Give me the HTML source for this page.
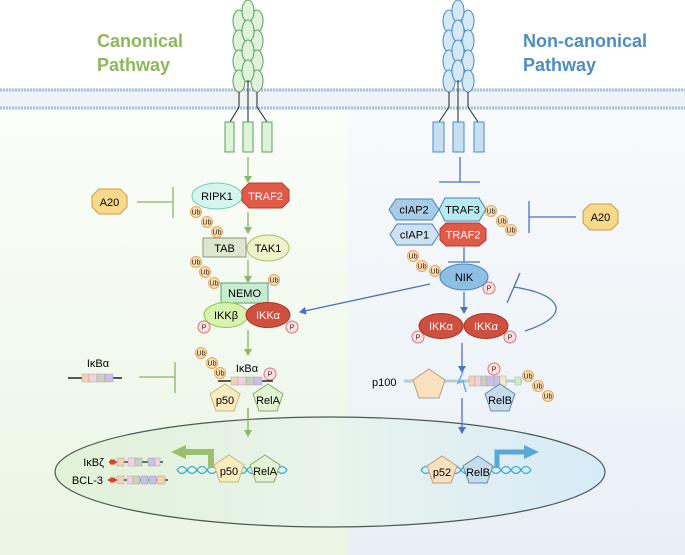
<!DOCTYPE html>
<html><head><meta charset="utf-8"><style>
html,body{margin:0;padding:0;background:#fff}
svg{display:block}
text{font-family:"Liberation Sans",sans-serif}
</style></head><body>
<svg width="685" height="555" viewBox="0 0 685 555" xmlns="http://www.w3.org/2000/svg">
<defs>
<linearGradient id="gl" x1="0" y1="0" x2="0" y2="1"><stop offset="0" stop-color="#fbfdf9"/><stop offset="1" stop-color="#eaf6e4"/></linearGradient>
<linearGradient id="gr" x1="0" y1="0" x2="0" y2="1"><stop offset="0" stop-color="#f8fafc"/><stop offset="1" stop-color="#e8f0f6"/></linearGradient>
<linearGradient id="nuc" x1="0" y1="0" x2="1" y2="0"><stop offset="0" stop-color="#e2f2d8"/><stop offset="0.5" stop-color="#e8f4ec"/><stop offset="1" stop-color="#d8eaf8"/></linearGradient>
<marker id="ag" markerWidth="8" markerHeight="8" refX="6" refY="4" orient="auto" markerUnits="userSpaceOnUse"><path d="M0,0 L7,4 L0,8 z" fill="#8db567"/></marker>
<marker id="ab" markerWidth="8" markerHeight="8" refX="6" refY="4" orient="auto" markerUnits="userSpaceOnUse"><path d="M0,0 L7,4 L0,8 z" fill="#4a72c0"/></marker>
</defs>
<rect x="0" y="110" width="348" height="445" fill="url(#gl)"/>
<rect x="348" y="110" width="337" height="445" fill="url(#gr)"/>
<!-- membrane -->
<rect x="0" y="88" width="685" height="22" fill="#eef3f8"/>
<line x1="0" y1="90" x2="685" y2="90" stroke="#a9bfd8" stroke-width="3" stroke-dasharray="2 1"/>
<line x1="0" y1="108" x2="685" y2="108" stroke="#a9bfd8" stroke-width="3" stroke-dasharray="2 1"/>
<!-- titles -->
<text x="97" y="47" font-size="18" font-weight="bold" fill="#8db85a">Canonical</text>
<text x="97" y="71" font-size="18" font-weight="bold" fill="#8db85a">Pathway</text>
<text x="523" y="47" font-size="18" font-weight="bold" fill="#4a8fc0">Non-canonical</text>
<text x="523" y="71" font-size="18" font-weight="bold" fill="#4a8fc0">Pathway</text>
<!-- left receptor -->
<g fill="#dff3d8" stroke="#5aa060" stroke-width="1">
<ellipse cx="239" cy="21" rx="6" ry="11"/><ellipse cx="239" cy="41" rx="6" ry="11"/><ellipse cx="239" cy="61" rx="6" ry="11"/><ellipse cx="239" cy="81" rx="6" ry="11"/>
<ellipse cx="257" cy="21" rx="6" ry="11"/><ellipse cx="257" cy="41" rx="6" ry="11"/><ellipse cx="257" cy="61" rx="6" ry="11"/><ellipse cx="257" cy="81" rx="6" ry="11"/>
<ellipse cx="248" cy="11" rx="6" ry="11"/><ellipse cx="248" cy="31" rx="6" ry="11"/><ellipse cx="248" cy="51" rx="6" ry="11"/><ellipse cx="248" cy="71" rx="6" ry="11"/>
</g>
<g stroke="#222" stroke-width="1" fill="none">
<path d="M239,92 V107 L230,122"/><path d="M248,80 V122"/><path d="M257,92 V107 L267,122"/>
</g>
<g fill="#dff3d8" stroke="#5aa060"><rect x="225" y="122" width="9" height="30"/><rect x="243" y="122" width="10" height="30"/><rect x="262" y="122" width="10" height="30"/></g>
<!-- right receptor -->
<g fill="#d4e8f6" stroke="#4a8ac8" stroke-width="1">
<ellipse cx="449" cy="21" rx="6" ry="11"/><ellipse cx="449" cy="41" rx="6" ry="11"/><ellipse cx="449" cy="61" rx="6" ry="11"/><ellipse cx="449" cy="81" rx="6" ry="11"/>
<ellipse cx="468" cy="21" rx="6" ry="11"/><ellipse cx="468" cy="41" rx="6" ry="11"/><ellipse cx="468" cy="61" rx="6" ry="11"/><ellipse cx="468" cy="81" rx="6" ry="11"/>
<ellipse cx="458" cy="11" rx="6" ry="11"/><ellipse cx="458" cy="31" rx="6" ry="11"/><ellipse cx="458" cy="51" rx="6" ry="11"/><ellipse cx="458" cy="71" rx="6" ry="11"/>
</g>
<g stroke="#222" stroke-width="1" fill="none">
<path d="M449,92 V107 L439,122"/><path d="M458,80 V122"/><path d="M468,92 V107 L478,122"/>
</g>
<g fill="#c6e0f2" stroke="#4a8ac8"><rect x="433" y="122" width="11" height="30"/><rect x="453" y="122" width="11" height="30"/><rect x="474" y="122" width="10" height="30"/></g>

<!-- canonical arrows -->
<g stroke="#8db567" stroke-width="1.3" fill="none">
<line x1="248" y1="157" x2="248" y2="182" marker-end="url(#ag)"/>
<line x1="248" y1="212" x2="248" y2="233" marker-end="url(#ag)"/>
<line x1="248" y1="260" x2="248" y2="282" marker-end="url(#ag)"/>
<line x1="248" y1="330" x2="248" y2="355" marker-end="url(#ag)"/>
<line x1="248" y1="408" x2="248" y2="436" marker-end="url(#ag)"/>
<line x1="137" y1="202" x2="173" y2="202"/><line x1="173" y1="187" x2="173" y2="218"/>
<line x1="139" y1="377" x2="175" y2="377"/><line x1="175" y1="362" x2="175" y2="393"/>
</g>
<!-- A20 left -->
<polygon points="99,189 120,189 127,196 127,207 120,214 99,214 92,207 92,196" fill="#f8d98a" stroke="#c8a040"/>
<text x="109.5" y="206" font-size="11" text-anchor="middle">A20</text>
<!-- RIPK1 TRAF2 -->
<ellipse cx="217" cy="196" rx="25" ry="13" fill="#d6f5ee" stroke="#7cc8b0"/>
<text x="217" y="200" font-size="11" text-anchor="middle">RIPK1</text>
<polygon points="249,183 282,183 289,190 289,201 282,208 249,208 242,201 242,190" fill="#e05a48" stroke="#b83a30"/>
<text x="265.5" y="200" font-size="11" text-anchor="middle" fill="#fff">TRAF2</text>
<!-- Ub helper groups -->
<g fill="#fbdcae" stroke="#e8a860" stroke-width="1" font-size="7" text-anchor="middle">
<circle cx="196" cy="212" r="5.5"/><circle cx="207" cy="222" r="5.5"/><circle cx="217" cy="232" r="5.5"/>
<circle cx="196" cy="262" r="5.5"/><circle cx="205" cy="272" r="5.5"/><circle cx="214" cy="283" r="5.5"/><circle cx="274" cy="280" r="5.5"/>
<circle cx="201" cy="353" r="5.5"/><circle cx="212" cy="363" r="5.5"/><circle cx="220" cy="373" r="5.5"/>
<circle cx="491" cy="211" r="5.5"/><circle cx="502" cy="221" r="5.5"/><circle cx="511" cy="230" r="5.5"/>
<circle cx="413" cy="256" r="5.5"/><circle cx="422" cy="266" r="5.5"/><circle cx="435" cy="271" r="5.5"/>
<circle cx="528" cy="376" r="5.5"/><circle cx="538" cy="386" r="5.5"/><circle cx="548" cy="396" r="5.5"/>
</g>
<g font-size="7" text-anchor="middle" fill="#222">
<text x="196" y="214.5">Ub</text><text x="207" y="224.5">Ub</text><text x="217" y="234.5">Ub</text>
<text x="196" y="264.5">Ub</text><text x="205" y="274.5">Ub</text><text x="214" y="285.5">Ub</text><text x="274" y="282.5">Ub</text>
<text x="201" y="355.5">Ub</text><text x="212" y="365.5">Ub</text><text x="220" y="375.5">Ub</text>
<text x="491" y="213.5">Ub</text><text x="502" y="223.5">Ub</text><text x="511" y="232.5">Ub</text>
<text x="413" y="258.5">Ub</text><text x="422" y="268.5">Ub</text><text x="435" y="273.5">Ub</text>
<text x="528" y="378.5">Ub</text><text x="538" y="388.5">Ub</text><text x="548" y="398.5">Ub</text>
</g>
<!-- TAB TAK1 -->
<rect x="203" y="238" width="43" height="19" fill="#dde6d0" stroke="#8a9a78"/>
<text x="224.5" y="252" font-size="11" text-anchor="middle">TAB</text>
<ellipse cx="268" cy="248" rx="21" ry="13" fill="#eef3c8" stroke="#b0b870"/>
<text x="268" y="252" font-size="11" text-anchor="middle">TAK1</text>
<!-- NEMO IKK -->
<rect x="221" y="283" width="47" height="20" fill="#c8ecd0" stroke="#5aa070"/>
<text x="244.5" y="297" font-size="11" text-anchor="middle">NEMO</text>
<ellipse cx="226" cy="315" rx="22" ry="12.5" fill="#d8f2b0" stroke="#8cc850"/>
<text x="226" y="319" font-size="11" text-anchor="middle">IKKβ</text>
<ellipse cx="268" cy="315" rx="22" ry="12.5" fill="#d05040" stroke="#a83428"/>
<text x="268" y="319" font-size="11" text-anchor="middle" fill="#fff">IKKα</text>
<!-- P circles -->
<g fill="#fde0e0" stroke="#e07080">
<circle cx="204" cy="327" r="6"/><circle cx="292" cy="327" r="6"/><circle cx="270" cy="374" r="6"/>
<circle cx="489" cy="288" r="6"/><circle cx="418" cy="337" r="6"/><circle cx="510" cy="337" r="6"/><circle cx="494" cy="369" r="6"/>
</g>
<g font-size="7" text-anchor="middle" fill="#222">
<text x="204" y="329.5">P</text><text x="292" y="329.5">P</text><text x="270" y="376.5">P</text>
<text x="489" y="290.5">P</text><text x="418" y="339.5">P</text><text x="510" y="339.5">P</text><text x="494" y="371.5">P</text>
</g>
<!-- IkBa complex -->
<text x="247" y="372" font-size="11" text-anchor="middle">IκBα</text>
<line x1="218" y1="381" x2="273" y2="381" stroke="#222" stroke-width="1.5"/>
<g stroke="#aaa" stroke-width="0.5"><rect x="231" y="377" width="7" height="8" fill="#f8d0b0"/><rect x="238" y="377" width="8" height="8" fill="#f4d0e0"/><rect x="246" y="377" width="8" height="8" fill="#c8d0c0"/><rect x="254" y="377" width="8" height="8" fill="#c8c0e8"/></g>
<polygon points="225,384 240,394 234,411 216,411 210,394" fill="#fbecc0" stroke="#c8b880"/>
<text x="225" y="404" font-size="11" text-anchor="middle">p50</text>
<polygon points="268,384 283,394 277,411 259,411 253,394" fill="#e2f4d2" stroke="#88a878"/>
<text x="268" y="404" font-size="11" text-anchor="middle">RelA</text>
<text x="98" y="367" font-size="11" text-anchor="middle">IκBα</text>
<line x1="68" y1="378" x2="122" y2="378" stroke="#222" stroke-width="1.5"/>
<g stroke="#aaa" stroke-width="0.5"><rect x="82" y="374" width="7" height="8" fill="#f8d0b0"/><rect x="89" y="374" width="8" height="8" fill="#f4d0e0"/><rect x="97" y="374" width="8" height="8" fill="#c8d0c0"/><rect x="105" y="374" width="8" height="8" fill="#c8c0e8"/></g>

<!-- nucleus -->
<ellipse cx="330" cy="472" rx="275" ry="55" fill="url(#nuc)" stroke="#4a5a50" stroke-width="1.2"/>
<line x1="248" y1="408" x2="248" y2="436" stroke="#8db567" stroke-width="1.3" marker-end="url(#ag)"/>
<text x="104" y="466" font-size="11" text-anchor="end">IκBζ</text>
<text x="103" y="484" font-size="11" text-anchor="end">BCL-3</text>
<line x1="109" y1="462" x2="163" y2="462" stroke="#222" stroke-width="1.3"/>
<line x1="108" y1="480" x2="168" y2="480" stroke="#222" stroke-width="1.3"/>
<g stroke="#aaa" stroke-width="0.5">
<rect x="110" y="459.5" width="5" height="5" fill="#e04030" stroke="none"/>
<rect x="117" y="458" width="7" height="8" fill="#f8d0b0"/><rect x="128" y="458" width="7" height="8" fill="#f4d0e0"/><rect x="135" y="458" width="7" height="8" fill="#c8d0c0"/><rect x="148" y="458" width="7" height="8" fill="#c8c0e8"/><rect x="155" y="458" width="5" height="8" fill="#f4d0e0"/>
<rect x="110" y="477.5" width="5" height="5" fill="#e04030" stroke="none"/>
<rect x="117" y="476" width="7" height="8" fill="#f8d0b0"/><rect x="127" y="476" width="6" height="8" fill="#f4d0e0"/><rect x="133" y="476" width="7" height="8" fill="#c8d0c0"/><rect x="141" y="476" width="7" height="8" fill="#c8c0e8"/><rect x="149" y="476" width="7" height="8" fill="#c8c0e8"/><rect x="157" y="476" width="8" height="8" fill="#f8d0b0"/>
</g>
<!-- DNA left -->
<g stroke="#40a8d0" stroke-width="1.3" fill="none">
<path d="M177,470 q5,-7 10,0 t10,0 t10,0 t10,0 t10,0 t10,0 t10,0 t10,0 t10,0 t10,0 t10,0"/>
<path d="M177,470 q5,7 10,0 t10,0 t10,0 t10,0 t10,0 t10,0 t10,0 t10,0 t10,0 t10,0 t10,0"/>
<path d="M421,470 q5,-7 10,0 t10,0 t10,0 t10,0 t10,0 t10,0 t10,0 t10,0 t10,0 t10,0 t10,0"/>
<path d="M421,470 q5,7 10,0 t10,0 t10,0 t10,0 t10,0 t10,0 t10,0 t10,0 t10,0 t10,0 t10,0"/>
</g>
<path d="M211,468 V452 H186" stroke="#9bbf6a" stroke-width="6" fill="none"/>
<polygon points="186,445 186,459 171,452" fill="#9bbf6a"/>
<polygon points="229,455 244,465 238,482 220,482 214,465" fill="#fbecc0" stroke="#c8b880"/>
<text x="229" y="475" font-size="11" text-anchor="middle">p50</text>
<polygon points="265,455 280,465 274,482 256,482 250,465" fill="#e2f4d2" stroke="#88a878"/>
<text x="265" y="475" font-size="11" text-anchor="middle">RelA</text>

<!-- non-canonical -->
<g stroke="#4a72c0" stroke-width="1.3" fill="none">
<line x1="460" y1="157" x2="460" y2="182"/><line x1="439" y1="182" x2="480" y2="182"/>
<line x1="529" y1="217" x2="576" y2="217"/><line x1="529" y1="201" x2="529" y2="233"/>
<line x1="464" y1="247" x2="464" y2="262"/><line x1="448" y1="262" x2="480" y2="262"/>
<line x1="430" y1="284" x2="300" y2="312" marker-end="url(#ab)"/>
<line x1="464" y1="292" x2="464" y2="313" marker-end="url(#ab)"/>
<line x1="462" y1="343" x2="462" y2="372" marker-end="url(#ab)"/>
<line x1="462" y1="398" x2="462" y2="433" marker-end="url(#ab)"/>
<path d="M525,331 Q558,320 556,307 Q552,293 514,287"/>
<line x1="520" y1="273" x2="507" y2="303"/>
</g>
<polygon points="389,209.5 396,199 432,199 439,209.5 432,220 396,220" fill="#a8cce8" stroke="#4a80b8"/>
<text x="414" y="213.5" font-size="11" text-anchor="middle">cIAP2</text>
<polygon points="439,209.5 445,198 479,198 486,209.5 479,221 445,221" fill="#b8eaf2" stroke="#4a80b8"/>
<text x="462.5" y="213.5" font-size="11" text-anchor="middle">TRAF3</text>
<polygon points="390,234.5 397,224 432,224 439,234.5 432,245 397,245" fill="#cfe2f2" stroke="#4a80b8"/>
<text x="414.5" y="238.5" font-size="11" text-anchor="middle">cIAP1</text>
<polygon points="446,223 479,223 486,229 486,240 479,246 446,246 440,240 440,229" fill="#e05a48" stroke="#b83a30"/>
<text x="463" y="238.5" font-size="11" text-anchor="middle" fill="#fff">TRAF2</text>
<polygon points="590,204 611,204 618,211 618,223 611,230 590,230 583,223 583,211" fill="#f8d98a" stroke="#c8a040"/>
<text x="600.5" y="221" font-size="11" text-anchor="middle">A20</text>
<ellipse cx="464" cy="277" rx="24" ry="13" fill="#8ec0e6" stroke="#4a80b8"/>
<text x="464" y="281" font-size="11" text-anchor="middle">NIK</text>
<ellipse cx="441" cy="326" rx="22" ry="12.5" fill="#d05040" stroke="#a83428"/>
<text x="441" y="330" font-size="11" text-anchor="middle" fill="#fff">IKKα</text>
<ellipse cx="486" cy="326" rx="22" ry="12.5" fill="#d05040" stroke="#a83428"/>
<text x="486" y="330" font-size="11" text-anchor="middle" fill="#fff">IKKα</text>
<!-- p100 -->
<text x="372" y="386" font-size="11">p100</text>
<line x1="404" y1="381" x2="522" y2="381" stroke="#b8ccd8" stroke-width="3"/>
<polygon points="429,369 445,380 439,398 419,398 413,380" fill="#fbe0c0" stroke="#b8a080"/>
<path d="M463,372 L458,383 L463,381 L466,392" stroke="#6ab0d8" stroke-width="1.5" fill="none"/>
<g stroke="#aaa" stroke-width="0.5"><rect x="469" y="376" width="6" height="10" fill="#f8d0b0"/><rect x="475" y="376" width="6" height="10" fill="#f4d0e0"/><rect x="481" y="376" width="6" height="10" fill="#c8d0c0"/><rect x="487" y="376" width="7" height="10" fill="#c8c0e8"/><rect x="494" y="376" width="6" height="10" fill="#c8c0e8"/><rect x="500" y="376" width="6" height="10" fill="#fbeac0"/><rect x="515" y="377" width="6" height="8" fill="#d0eec0"/></g>
<polygon points="500,384 515,394 509,411 491,411 485,394" fill="#c6dcea" stroke="#6a8ca8"/>
<text x="500" y="404" font-size="11" text-anchor="middle">RelB</text>
<!-- right nucleus -->
<path d="M497,468 V452 H524" stroke="#5aa8d8" stroke-width="5" fill="none"/>
<polygon points="524,445 524,459 539,452" fill="#5aa8d8"/>
<polygon points="442,456 457,466 451,483 433,483 427,466" fill="#fbe0c0" stroke="#b8a080"/>
<text x="442" y="476" font-size="11" text-anchor="middle">p52</text>
<polygon points="478,456 493,466 487,483 469,483 463,466" fill="#c6dcea" stroke="#6a8ca8"/>
<text x="478" y="476" font-size="11" text-anchor="middle">RelB</text>
</svg>
</body></html>
